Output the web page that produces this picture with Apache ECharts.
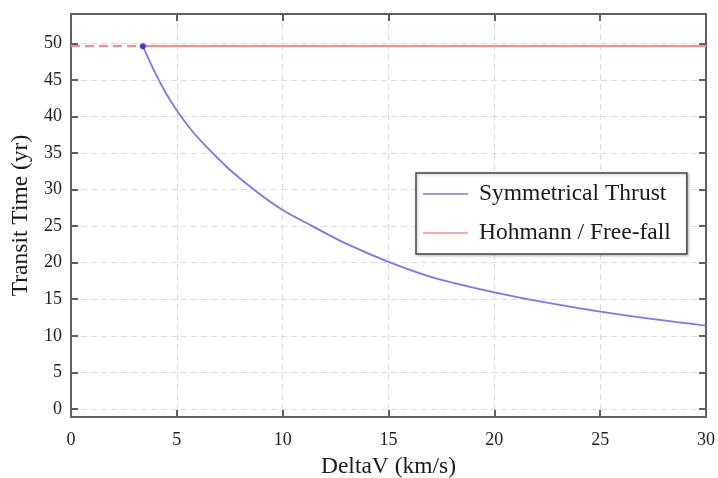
<!DOCTYPE html>
<html>
<head>
<meta charset="utf-8">
<script src="https://cdn.jsdelivr.net/npm/echarts@6/dist/echarts.min.js"></script>
<style>
html,body{margin:0;padding:0;background:#fff;}
#chart{width:718px;height:478px;}
</style>
</head>
<body>
<div id="chart"></div>
<script>
// Data
const deltaV      = [3.39, 4, 4.5, 5, 5.75, 6.65, 7.5, 8.77, 10, 11.4, 13, 15, 17, 18.7, 20, 22.15, 25, 27.7, 30];
const transitTime = [49.6, 45.8, 43.1, 40.8, 37.9, 35.1, 32.7, 29.7, 27.2, 25.0, 22.6, 20.1, 18.05, 16.8, 15.95, 14.7, 13.3, 12.2, 11.4];
const hohmannTime = 49.6;
const hohmannStart = 3.39;
const xMin = 0, xMax = 30;
const seriesNames = ['Symmetrical Thrust', 'Hohmann / Free-fall'];
const xTitle = 'DeltaV (km/s)';
const yTitle = 'Transit Time (yr)';

const thrustData = deltaV.map((v, i) => [v, transitTime[i]]);
const hohmannSolid = [[hohmannStart, hohmannTime], [xMax, hohmannTime]];
const hohmannDashed = [[xMin, hohmannTime], [hohmannStart, hohmannTime]];

const FONT = 'Liberation Serif';
const frameColor = '#606060';
const gridLine = {show: true, lineStyle: {color: '#dcdcdc', type: [6, 4], width: 1}};

const chart = echarts.init(document.getElementById('chart'), null, {renderer: 'canvas'});
chart.setOption({
  backgroundColor: '#fff',
  animation: false,
  textStyle: {fontFamily: FONT},
  grid: {left: 71, right: 12, top: 14, bottom: 61, show: false, containLabel: false, outerBoundsMode: 'none'},
  legend: {
    data: [
      {name: seriesNames[0], icon: 'rect', itemStyle: {color: '#7777ff'}},
      {name: seriesNames[1], icon: 'rect', itemStyle: {color: '#ff8c8c'}}
    ],
    orient: 'vertical',
    left: 416, top: 173,
    padding: [8, 16, 8, 7],
    itemWidth: 45, itemHeight: 1.6, itemGap: 13,
    borderColor: '#444', borderWidth: 1.5,
    backgroundColor: '#fff',
    shadowColor: 'rgba(0,0,0,0.25)', shadowBlur: 3, shadowOffsetX: 1, shadowOffsetY: 1,
    textStyle: {fontFamily: FONT, fontSize: 23.5, color: '#1a1a1a', lineHeight: 26, padding: [0, 0, 0, 6]}
  },
  xAxis: [{
    type: 'value', min: xMin, max: xMax, interval: 5,
    name: xTitle, nameLocation: 'middle', nameGap: 38,
    nameTextStyle: {fontFamily: FONT, fontSize: 23.5, color: '#1a1a1a'},
    axisLine: {show: true, onZero: false, lineStyle: {color: frameColor, width: 2}},
    axisTick: {show: true, inside: true, length: 7, lineStyle: {color: frameColor, width: 2}},
    axisLabel: {fontFamily: FONT, fontSize: 18, color: '#222', margin: 14},
    splitLine: gridLine
  }, {
    type: 'value', position: 'top', min: xMin, max: xMax, interval: 5,
    axisLine: {show: true, onZero: false, lineStyle: {color: frameColor, width: 2}},
    axisTick: {show: true, inside: true, length: 7, lineStyle: {color: frameColor, width: 2}},
    axisLabel: {show: false}, splitLine: {show: false}
  }],
  yAxis: [{
    type: 'value', min: -1.1, max: 54, splitNumber: 11,
    name: yTitle, nameLocation: 'middle', nameGap: 36,
    nameTextStyle: {fontFamily: FONT, fontSize: 23.5, color: '#1a1a1a'},
    axisLine: {show: true, onZero: false, lineStyle: {color: frameColor, width: 2}},
    axisTick: {show: true, inside: true, length: 7, lineStyle: {color: frameColor, width: 2}},
    axisLabel: {fontFamily: FONT, fontSize: 18, color: '#222', margin: 9, showMinLabel: false, showMaxLabel: false},
    splitLine: gridLine
  }, {
    type: 'value', position: 'right', min: -1.1, max: 54, splitNumber: 11,
    axisLine: {show: true, onZero: false, lineStyle: {color: frameColor, width: 2}},
    axisTick: {show: true, inside: true, length: 7, lineStyle: {color: frameColor, width: 2}},
    axisLabel: {show: false}, splitLine: {show: false}
  }],
  series: [{
    name: seriesNames[0], type: 'line', data: thrustData, smooth: 0.3,
    symbol: 'none', lineStyle: {color: '#7777ff', width: 1.8}, itemStyle: {color: '#7777ff'}, z: 3
  }, {
    name: seriesNames[1], type: 'line', data: hohmannSolid,
    symbol: 'none', lineStyle: {color: '#ff8c8c', width: 2.2}, itemStyle: {color: '#ff8c8c'}, z: 2
  }, {
    name: 'hohmann-dashed', type: 'line', data: hohmannDashed,
    symbol: 'none', lineStyle: {color: '#ff8c8c', width: 2.2, type: [9, 5]}, z: 2
  }, {
    name: 'start-point', type: 'scatter', data: [thrustData[0]],
    symbolSize: 6, itemStyle: {color: '#1a1aff'}, z: 4
  }]
});
</script>
</body>
</html>
